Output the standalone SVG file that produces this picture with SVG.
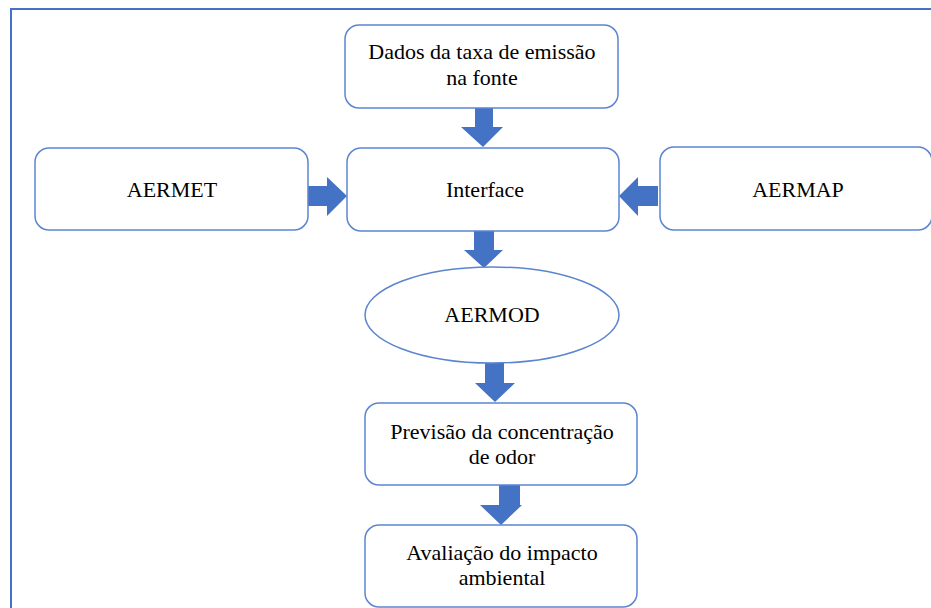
<svg xmlns="http://www.w3.org/2000/svg" width="931" height="608" viewBox="0 0 931 608">
<style>
.box{fill:#fff;stroke:#5b85cf;stroke-width:1.5}
.t{font-family:'Liberation Serif','Times New Roman',serif;font-size:22px;fill:#000;text-anchor:middle}
.arr{fill:#4472c4}
</style>
<rect x="0" y="0" width="931" height="608" fill="#fff"/>
<rect x="11" y="9" width="940" height="620" fill="none" stroke="#4472c4" stroke-width="2"/>
<g id="connectors">
<polygon class="arr" points="475,108 493,108 493,127 503,127 483,147 461,127 475,127"/>
<polygon class="arr" points="308,186 327,186 327,177 347,196 327,216 327,206 308,206"/>
<polygon class="arr" points="658,186 638,186 638,177 619,196 638,216 638,206 658,206"/>
<polygon class="arr" points="474,231 494,231 494,250 503,250 484,268 464,250 474,250"/>
<polygon class="arr" points="485,363 504,363 504,383 515,383 495,402 475,383 485,383"/>
<polygon class="arr" points="499,485 520,485 520,505 522,505 501,525 480,505 499,505"/>
</g>
<g id="dados">
<rect class="box" x="345" y="25" width="273" height="83" rx="14"/>
<text class="t" x="482" y="59">Dados da taxa de emissão</text>
<text class="t" x="482" y="85">na fonte</text>
</g>
<g id="aermet">
<rect class="box" x="35" y="148" width="273" height="82" rx="14"/>
<text class="t" x="172" y="197">AERMET</text>
</g>
<g id="interface">
<rect class="box" x="347" y="148" width="272" height="83" rx="14"/>
<text class="t" x="485" y="197">Interface</text>
</g>
<g id="aermap">
<rect class="box" x="660" y="147" width="272" height="83" rx="14"/>
<text class="t" x="798" y="197">AERMAP</text>
</g>
<g id="aermod">
<ellipse class="box" cx="492" cy="315" rx="127" ry="48"/>
<text class="t" x="492" y="322">AERMOD</text>
</g>
<g id="previsao">
<rect class="box" x="365" y="403" width="272" height="82" rx="14"/>
<text class="t" x="502" y="439">Previsão da concentração</text>
<text class="t" x="502" y="464">de odor</text>
</g>
<g id="avaliacao">
<rect class="box" x="365" y="525" width="272" height="82" rx="14"/>
<text class="t" x="502" y="560">Avaliação do impacto</text>
<text class="t" x="502" y="585">ambiental</text>
</g>
</svg>
